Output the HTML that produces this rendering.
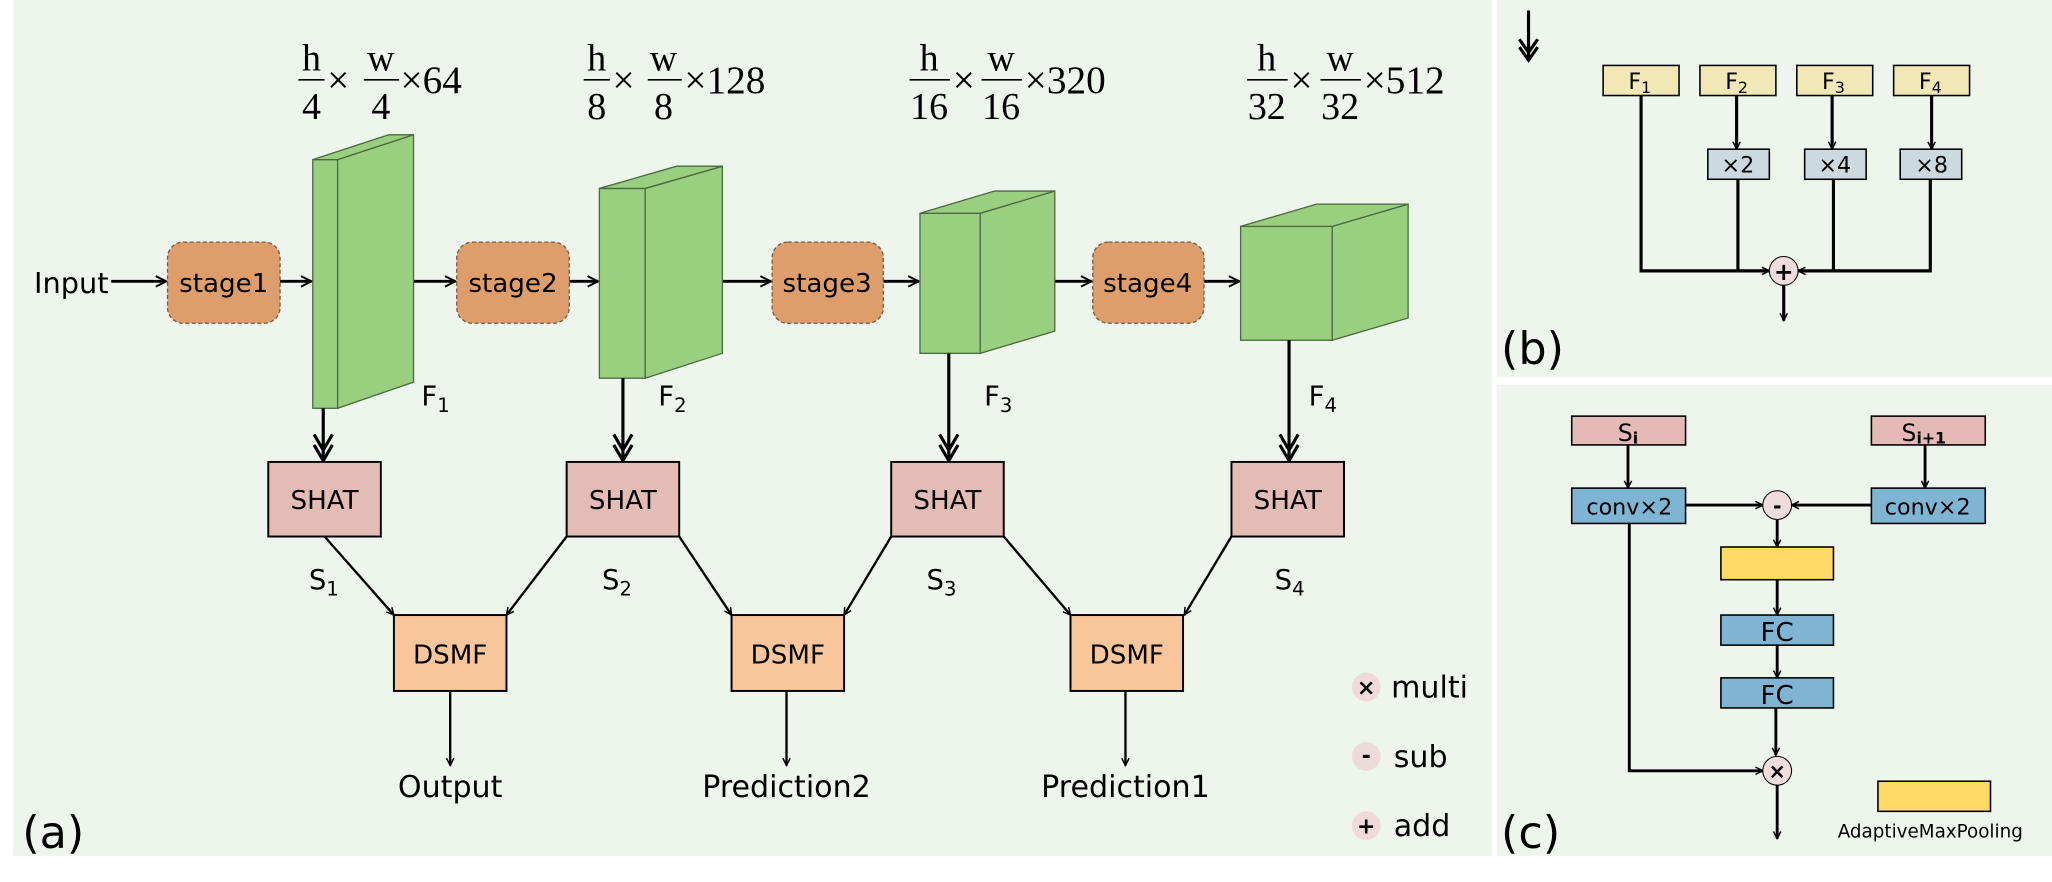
<!DOCTYPE html>
<html><head><meta charset="utf-8"><style>
html,body{margin:0;padding:0;background:#fff;}
svg{display:block;}
text{font-family:"DejaVu Sans","Liberation Sans",sans-serif;fill:#000;}
.serif{font-family:"Liberation Serif","DejaVu Serif",serif;}
</style></head><body>
<svg width="2052" height="882" viewBox="0 0 1568 674" preserveAspectRatio="none" xmlns="http://www.w3.org/2000/svg">
<defs>
<marker id="ah" viewBox="0 0 10 10" refX="9" refY="5" markerWidth="7" markerHeight="7" orient="auto" markerUnits="userSpaceOnUse">
<path d="M1,1 L9,5 L1,9" fill="none" stroke="#000" stroke-width="1.6"/></marker>
<marker id="ah2" viewBox="0 0 10 10" refX="9" refY="5" markerWidth="10" markerHeight="10" orient="auto" markerUnits="userSpaceOnUse">
<path d="M1,1 L9,5 L1,9" fill="none" stroke="#000" stroke-width="1.5"/></marker>
</defs>
<rect x="0" y="0" width="1568" height="674" fill="#fff"/>
<rect x="10" y="0" width="1130" height="654" fill="#eef5ec"/>
<rect x="1144" y="0" width="424" height="288" fill="#eef5ec"/>
<rect x="1144" y="294" width="424" height="360" fill="#eef5ec"/>

<g stroke="#000" stroke-width="2.2" fill="none">
<line x1="85" y1="215" x2="127" y2="215" marker-end="url(#ah2)"/>
<line x1="214" y1="215" x2="238" y2="215" marker-end="url(#ah2)"/>
<line x1="316" y1="215" x2="348" y2="215" marker-end="url(#ah2)"/>
<line x1="435" y1="215" x2="457" y2="215" marker-end="url(#ah2)"/>
<line x1="552" y1="215" x2="589" y2="215" marker-end="url(#ah2)"/>
<line x1="675" y1="215" x2="702" y2="215" marker-end="url(#ah2)"/>
<line x1="806" y1="215" x2="834" y2="215" marker-end="url(#ah2)"/>
<line x1="920" y1="215" x2="947" y2="215" marker-end="url(#ah2)"/>
</g>

<g fill="#dd9e6c" stroke="#7a5a40" stroke-width="1" stroke-dasharray="3,2">
<rect x="128" y="185" width="86" height="62" rx="12"/>
<rect x="349" y="185" width="86" height="62" rx="12"/>
<rect x="590" y="185" width="85" height="62" rx="12"/>
<rect x="835" y="185" width="85" height="62" rx="12"/>
</g>
<g font-size="20" text-anchor="middle">
<text x="171" y="223">stage1</text>
<text x="392" y="223">stage2</text>
<text x="632" y="223">stage3</text>
<text x="877" y="223">stage4</text>
</g>
<text x="26" y="224" font-size="22">Input</text>

<g fill="#99cf7f" stroke="#4a6a40" stroke-width="1">
<rect x="239" y="122" width="19" height="190"/>
<polygon points="258,122 316,103 316,292 258,312"/>
<polygon points="239,122 258,122 316,103 297,103"/>
<rect x="458" y="144" width="35" height="145"/>
<polygon points="493,144 552,127 552,270 493,289"/>
<polygon points="458,144 493,144 552,127 517,127"/>
<rect x="703" y="163" width="46" height="107"/>
<polygon points="749,163 806,146 806,253 749,270"/>
<polygon points="703,163 749,163 806,146 760,146"/>
<rect x="948" y="173" width="70" height="87"/>
<polygon points="1018,173 1076,156 1076,243 1018,260"/>
<polygon points="948,173 1018,173 1076,156 1006,156"/>
</g>

<g class="serif" font-size="29" text-anchor="middle">
<text class="serif" x="238" y="54">h</text><text class="serif" x="238" y="91">4</text>
<text class="serif" x="291" y="54">w</text><text class="serif" x="291" y="91">4</text>
<text class="serif" x="456" y="54">h</text><text class="serif" x="456" y="91">8</text>
<text class="serif" x="507" y="54">w</text><text class="serif" x="507" y="91">8</text>
<text class="serif" x="710" y="54">h</text><text class="serif" x="710" y="91">16</text>
<text class="serif" x="765" y="54">w</text><text class="serif" x="765" y="91">16</text>
<text class="serif" x="968" y="54">h</text><text class="serif" x="968" y="91">32</text>
<text class="serif" x="1024" y="54">w</text><text class="serif" x="1024" y="91">32</text>
</g>
<g stroke="#000" stroke-width="1.3">
<line x1="228" y1="61" x2="248" y2="61"/><line x1="278" y1="61" x2="305" y2="61"/>
<line x1="446" y1="61" x2="466" y2="61"/><line x1="495" y1="61" x2="521" y2="61"/>
<line x1="695" y1="61" x2="726" y2="61"/><line x1="750" y1="61" x2="781" y2="61"/>
<line x1="953" y1="61" x2="984" y2="61"/><line x1="1009" y1="61" x2="1040" y2="61"/>
</g>
<g class="serif" font-size="30">
<text class="serif" x="250" y="71">×</text><text class="serif" x="306" y="71">×64</text>
<text class="serif" x="468" y="71">×</text><text class="serif" x="523" y="71">×128</text>
<text class="serif" x="728" y="71">×</text><text class="serif" x="783" y="71">×320</text>
<text class="serif" x="986" y="71">×</text><text class="serif" x="1042" y="71">×512</text>
</g>

<g font-size="21">
<text x="322" y="310">F<tspan font-size="15" dy="5">1</tspan></text>
<text x="503" y="310">F<tspan font-size="15" dy="5">2</tspan></text>
<text x="752" y="310">F<tspan font-size="15" dy="5">3</tspan></text>
<text x="1000" y="310">F<tspan font-size="15" dy="5">4</tspan></text>
<text x="236" y="450">S<tspan font-size="15" dy="5">1</tspan></text>
<text x="460" y="450">S<tspan font-size="15" dy="5">2</tspan></text>
<text x="708" y="450">S<tspan font-size="15" dy="5">3</tspan></text>
<text x="974" y="450">S<tspan font-size="15" dy="5">4</tspan></text>
</g>

<g stroke="#000" stroke-width="2.4" fill="none">
<line x1="247" y1="312" x2="247" y2="353"/>
<line x1="476" y1="289" x2="476" y2="353"/>
<line x1="725" y1="270" x2="725" y2="353"/>
<line x1="985" y1="260" x2="985" y2="353"/>
<path d="M240,332 L247,344 L254,332 M240,340 L247,352 L254,340"/>
<path d="M469,332 L476,344 L483,332 M469,340 L476,352 L483,340"/>
<path d="M718,332 L725,344 L732,332 M718,340 L725,352 L732,340"/>
<path d="M978,332 L985,344 L992,332 M978,340 L985,352 L992,340"/>
</g>

<g fill="#e3bcb6" stroke="#000" stroke-width="1.5">
<rect x="205" y="353" width="86" height="57"/>
<rect x="433" y="353" width="86" height="57"/>
<rect x="681" y="353" width="86" height="57"/>
<rect x="941" y="353" width="86" height="57"/>
</g>
<g font-size="20" text-anchor="middle">
<text x="248" y="389">SHAT</text><text x="476" y="389">SHAT</text>
<text x="724" y="389">SHAT</text><text x="984" y="389">SHAT</text>
</g>

<g stroke="#000" stroke-width="1.8" fill="none">
<line x1="248" y1="410" x2="301" y2="470" marker-end="url(#ah)"/>
<line x1="433" y1="410" x2="387" y2="470" marker-end="url(#ah)"/>
<line x1="519" y1="410" x2="559" y2="470" marker-end="url(#ah)"/>
<line x1="681" y1="410" x2="645" y2="470" marker-end="url(#ah)"/>
<line x1="767" y1="410" x2="818" y2="470" marker-end="url(#ah)"/>
<line x1="941" y1="410" x2="905" y2="470" marker-end="url(#ah)"/>
<line x1="344" y1="528" x2="344" y2="585" marker-end="url(#ah)"/>
<line x1="601" y1="528" x2="601" y2="585" marker-end="url(#ah)"/>
<line x1="860" y1="528" x2="860" y2="585" marker-end="url(#ah)"/>
</g>
<g fill="#f9c59a" stroke="#000" stroke-width="1.5">
<rect x="301" y="470" width="86" height="58"/>
<rect x="559" y="470" width="86" height="58"/>
<rect x="818" y="470" width="86" height="58"/>
</g>
<g font-size="20" text-anchor="middle">
<text x="344" y="507">DSMF</text><text x="602" y="507">DSMF</text><text x="861" y="507">DSMF</text>
<text x="344" y="609" font-size="23">Output</text>
<text x="601" y="609" font-size="23">Prediction2</text>
<text x="860" y="609" font-size="23">Prediction1</text>
</g>

<g fill="#efdada">
<circle cx="1044" cy="525" r="11"/><circle cx="1044" cy="578" r="11"/><circle cx="1044" cy="631" r="11"/>
</g>
<g font-size="17" font-weight="bold" text-anchor="middle">
<text x="1044" y="531">×</text><text x="1044" y="583">-</text><text x="1044" y="637">+</text>
</g>
<g font-size="23">
<text x="1063" y="533">multi</text><text x="1065" y="586">sub</text><text x="1065" y="639">add</text>
</g>
<text x="17" y="648" font-size="34">(a)</text>

<g stroke="#000" stroke-width="2.4" fill="none">
<line x1="1168" y1="8" x2="1168" y2="46"/>
<path d="M1161,30 L1168,40 L1175,30 M1161,36 L1168,46 L1175,36"/>
<path d="M1254,73 V207 H1352" marker-end="url(#ah)"/>
<line x1="1327" y1="73" x2="1327" y2="114" marker-end="url(#ah)"/>
<line x1="1400" y1="73" x2="1400" y2="114" marker-end="url(#ah)"/>
<line x1="1476" y1="73" x2="1476" y2="114" marker-end="url(#ah)"/>
<line x1="1328" y1="137" x2="1328" y2="207"/>
<line x1="1401" y1="137" x2="1401" y2="207"/>
<path d="M1475,137 V207 H1374" marker-end="url(#ah)"/>
<line x1="1363" y1="218" x2="1363" y2="245" marker-end="url(#ah)"/>
</g>
<g fill="#f2e8b6" stroke="#000" stroke-width="1.2">
<rect x="1225" y="50" width="58" height="23"/><rect x="1299" y="50" width="58" height="23"/>
<rect x="1373" y="50" width="58" height="23"/><rect x="1447" y="50" width="58" height="23"/>
</g>
<g fill="#ccd9df" stroke="#000" stroke-width="1.2">
<rect x="1305" y="114" width="47" height="23"/><rect x="1379" y="114" width="47" height="23"/><rect x="1452" y="114" width="47" height="23"/>
</g>
<g font-size="17" text-anchor="middle">
<text x="1253" y="68">F<tspan font-size="12" dy="3">1</tspan></text>
<text x="1327" y="68">F<tspan font-size="12" dy="3">2</tspan></text>
<text x="1401" y="68">F<tspan font-size="12" dy="3">3</tspan></text>
<text x="1475" y="68">F<tspan font-size="12" dy="3">4</tspan></text>
<text x="1328" y="132">×2</text><text x="1402" y="132">×4</text><text x="1476" y="132">×8</text>
</g>
<circle cx="1363" cy="207" r="11" fill="#f0dcdc" stroke="#000" stroke-width="0.8"/>
<text x="1363" y="214" font-size="18" font-weight="bold" text-anchor="middle">+</text>
<text x="1147" y="278" font-size="34">(b)</text>

<g stroke="#000" stroke-width="2.2" fill="none">
<line x1="1244" y1="340" x2="1244" y2="373" marker-end="url(#ah)"/>
<line x1="1471" y1="340" x2="1471" y2="373" marker-end="url(#ah)"/>
<line x1="1288" y1="386" x2="1347" y2="386" marker-end="url(#ah)"/>
<line x1="1430" y1="386" x2="1369" y2="386" marker-end="url(#ah)"/>
<line x1="1358" y1="397" x2="1358" y2="418" marker-end="url(#ah)"/>
<line x1="1358" y1="443" x2="1358" y2="470" marker-end="url(#ah)"/>
<line x1="1358" y1="493" x2="1358" y2="518" marker-end="url(#ah)"/>
<line x1="1357" y1="541" x2="1357" y2="577" marker-end="url(#ah)"/>
<path d="M1245,400 V589 H1347" marker-end="url(#ah)"/>
<line x1="1358" y1="600" x2="1358" y2="641" marker-end="url(#ah)"/>
</g>
<g fill="#e5b9b6" stroke="#000" stroke-width="1.2">
<rect x="1201" y="318" width="87" height="22"/><rect x="1430" y="318" width="87" height="22"/>
</g>
<g fill="#80b4d3" stroke="#000" stroke-width="1.2">
<rect x="1201" y="373" width="87" height="27"/><rect x="1430" y="373" width="87" height="27"/>
<rect x="1315" y="470" width="86" height="23"/><rect x="1315" y="518" width="86" height="23"/>
</g>
<g fill="#ffd966" stroke="#000" stroke-width="1.2">
<rect x="1315" y="418" width="86" height="25"/><rect x="1435" y="597" width="86" height="23"/>
</g>
<g font-size="18" text-anchor="middle">
<text x="1244" y="337">S<tspan font-size="12" font-weight="bold" dy="2">i</tspan></text>
<text x="1470" y="337">S<tspan font-size="12" font-weight="bold" dy="2">i+1</tspan></text>
<text x="1245" y="393" font-size="17">conv×2</text><text x="1473" y="393" font-size="17">conv×2</text>
<text x="1358" y="490" font-size="20">FC</text><text x="1358" y="538" font-size="20">FC</text>
<text x="1475" y="640" font-size="14">AdaptiveMaxPooling</text>
</g>
<circle cx="1358" cy="386" r="11" fill="#f0dcdc" stroke="#000" stroke-width="0.8"/>
<text x="1358" y="392" font-size="16" font-weight="bold" text-anchor="middle">-</text>
<circle cx="1358" cy="589" r="11" fill="#f0dcdc" stroke="#000" stroke-width="0.8"/>
<text x="1358" y="595" font-size="16" font-weight="bold" text-anchor="middle">×</text>
<text x="1147" y="648" font-size="34">(c)</text>
</svg>
</body></html>
